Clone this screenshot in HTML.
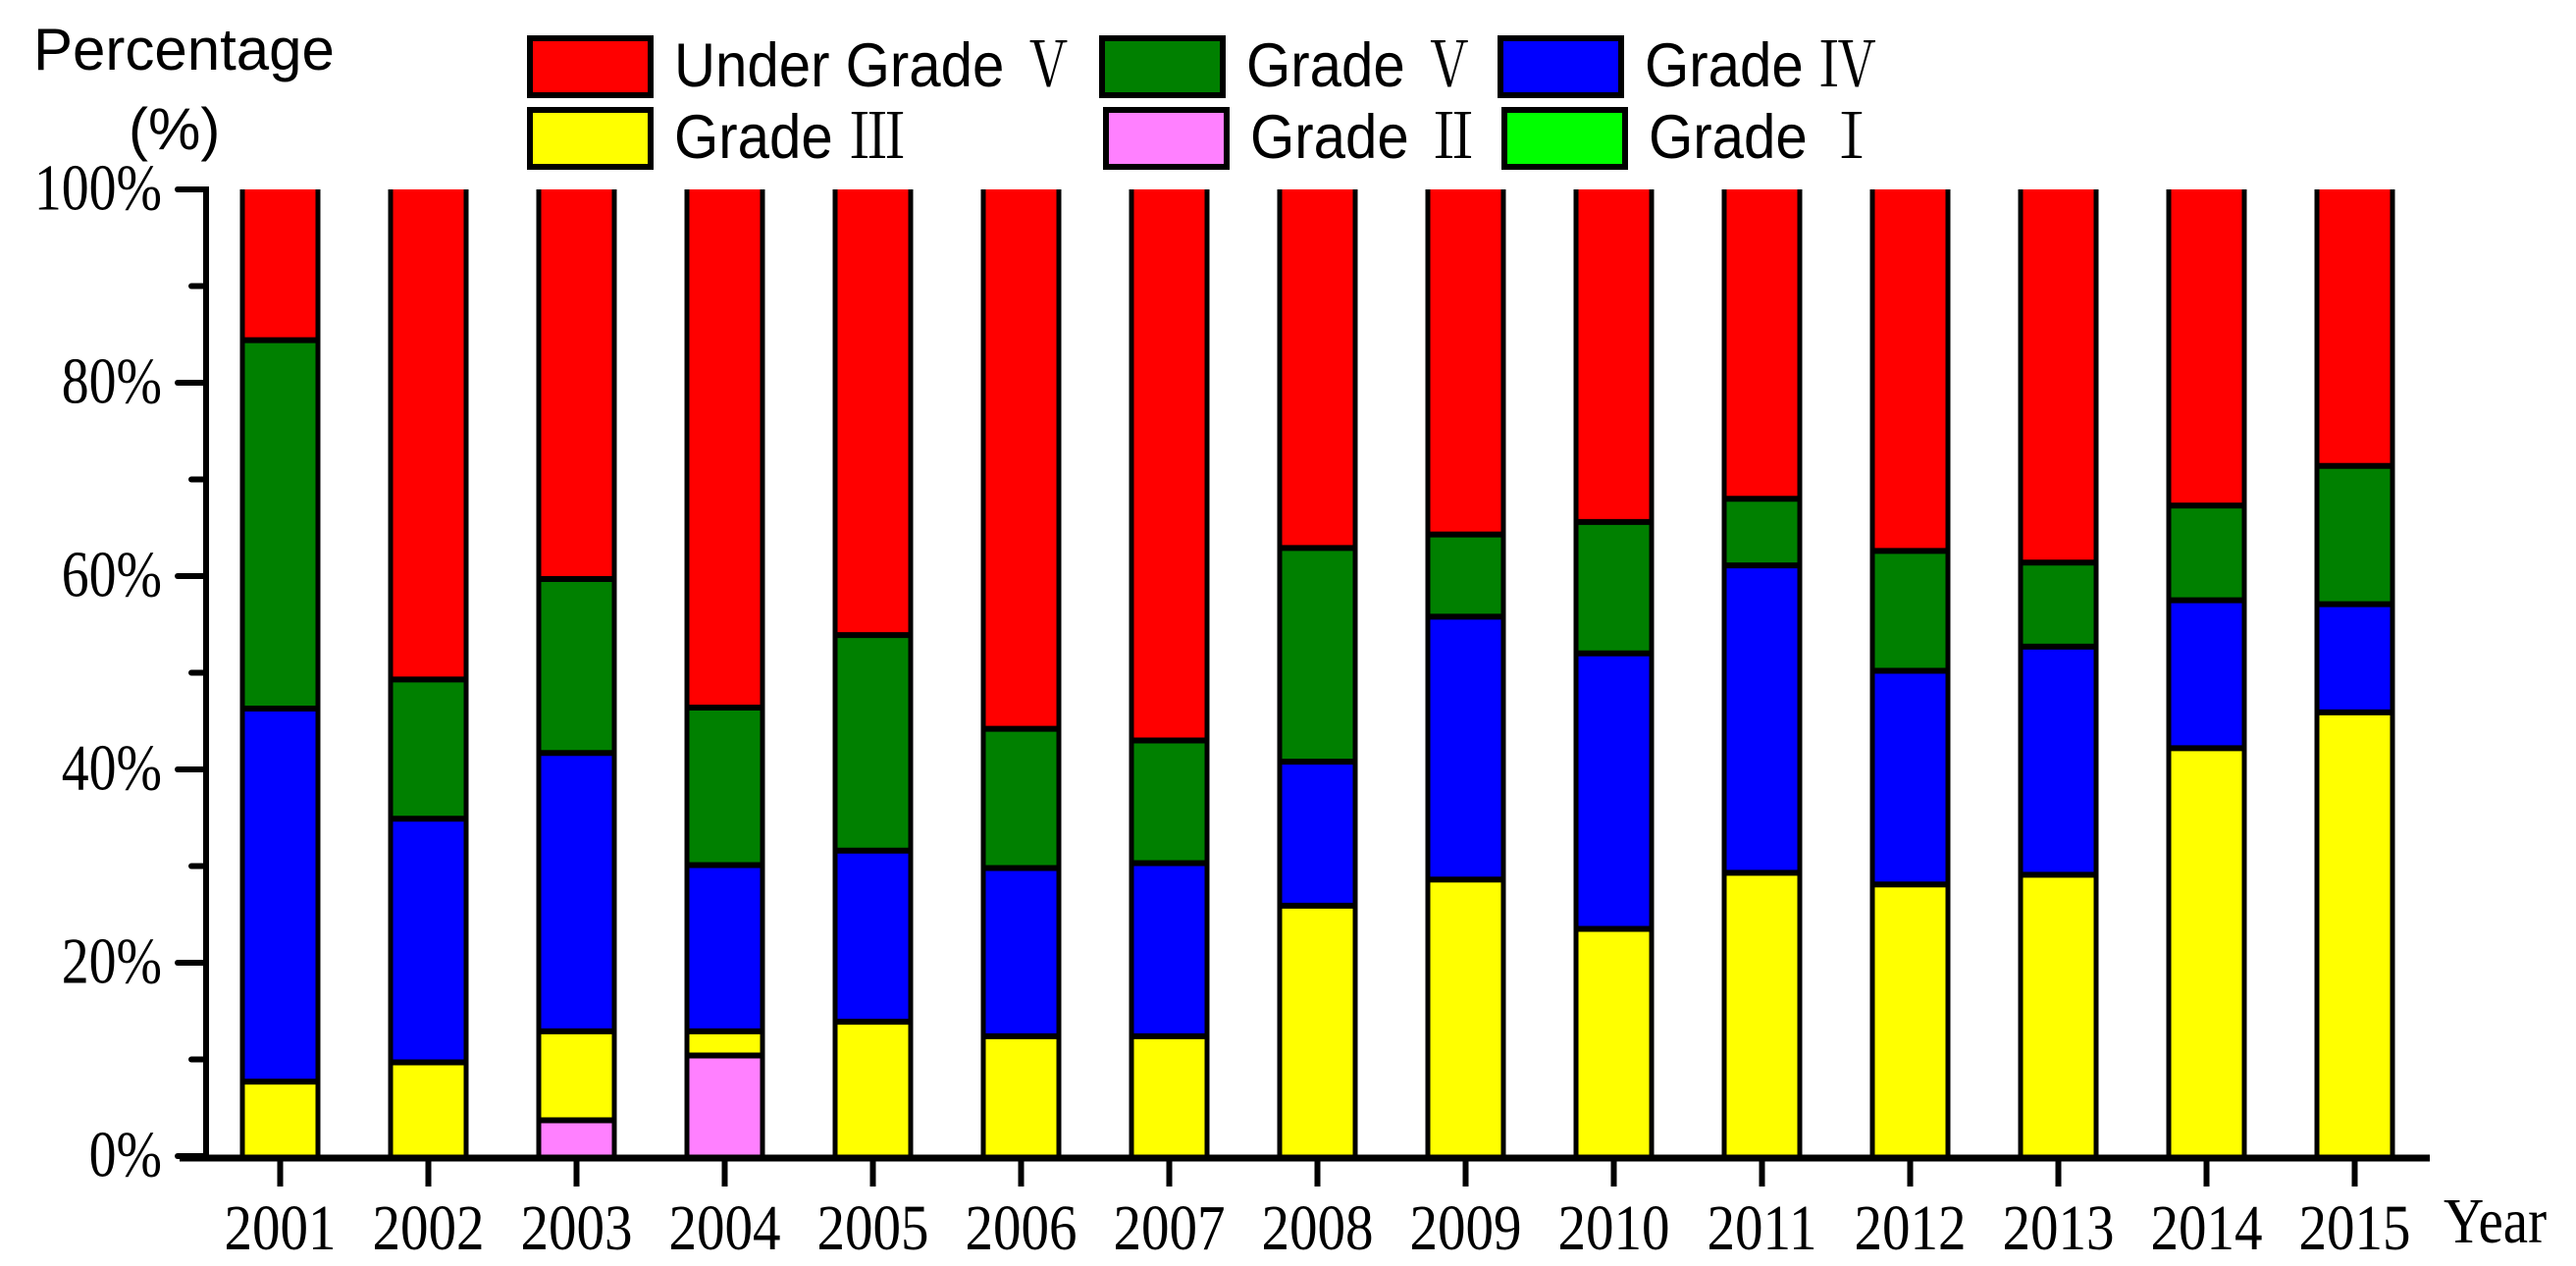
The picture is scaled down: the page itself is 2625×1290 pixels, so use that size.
<!DOCTYPE html>
<html><head><meta charset="utf-8"><style>
html,body{margin:0;padding:0;background:#fff;}
svg{display:block;}
.s{font-family:"Liberation Sans",sans-serif;}
.r{font-family:"Liberation Serif",serif;}
</style></head><body>
<svg id="chart" width="2625" height="1290" viewBox="0 0 2625 1290" xmlns="http://www.w3.org/2000/svg">
<g id="legend"></g>
<text class="s" x="34" y="71" font-size="60">Percentage</text>
<text class="s" x="131" y="152" font-size="60">(%)</text>
<g id="bars"></g>
<g id="axes"></g>
</svg>
<script>
const years = ["2001","2002","2003","2004","2005","2006","2007","2008","2009","2010","2011","2012","2013","2014","2015"];
const gradeI = [0,0,0,0,0,0,0,0,0,0,0,0,0,0,0];
const gradeII = [0,0,3.7,10.4,0,0,0,0,0,0,0,0,0,0,0];
const gradeIII = [7.7,9.7,9.2,2.5,13.9,12.4,12.4,25.9,28.6,23.5,29.3,28.1,29.1,42.2,45.9];
const gradeIV = [38.6,25.2,28.8,17.2,17.7,17.4,17.9,14.9,27.2,28.5,31.8,22.1,23.6,15.3,11.2];
const gradeV = [38.1,14.4,18.0,16.3,22.3,14.4,12.7,22.1,8.5,13.6,6.9,12.4,8.7,9.8,14.3];
const underV = [15.6,50.7,40.3,53.6,46.1,55.8,57.0,37.1,35.7,34.4,32.0,37.4,38.6,32.7,28.6];
const yTicks = [0,20,40,60,80,100];
const yTickLabels = ["0%","20%","40%","60%","80%","100%"];

const NS="http://www.w3.org/2000/svg";
const Y0=1178, YH=985, X0=285.5, DX=151, BW=77;
function yScale(v){return Y0 - v/100*YH;}
function xScale(i){return X0 + i*DX;}
function mk(tag,attrs,parent){const e=document.createElementNS(NS,tag);for(const k in attrs)e.setAttribute(k,attrs[k]);parent.appendChild(e);return e;}

const series=[
 {name:"grade-i",vals:gradeI,color:"#00ff00"},
 {name:"grade-ii",vals:gradeII,color:"#ff80ff"},
 {name:"grade-iii",vals:gradeIII,color:"#ffff00"},
 {name:"grade-iv",vals:gradeIV,color:"#0000ff"},
 {name:"grade-v",vals:gradeV,color:"#008000"},
 {name:"under-grade-v",vals:underV,color:"#ff0000"}];

const bars=document.getElementById('bars');
years.forEach((yr,i)=>{
  const cx=xScale(i), x=cx-BW/2;
  const g=mk('g',{},bars);
  
  
  let cum=0; const bounds=[];
  series.forEach(s=>{
    const v=s.vals[i]; if(v<=0)return;
    const top=Math.min(cum+v,100);
    const r=mk('rect',{x:x,y:yScale(top),width:BW,height:yScale(cum)-yScale(top),fill:s.color},g);
    
    
    cum=top; if(cum<99.9)bounds.push(cum);
  });
  mk('line',{x1:x,x2:x,y1:yScale(100),y2:Y0,stroke:"#000","stroke-width":5},g);
  mk('line',{x1:x+BW,x2:x+BW,y1:yScale(100),y2:Y0,stroke:"#000","stroke-width":5},g);
  bounds.forEach(b=>mk('line',{x1:x,x2:x+BW,y1:yScale(b),y2:yScale(b),stroke:"#000","stroke-width":6},g));
});

const axes=document.getElementById('axes');
const ya=mk('line',{x1:210,x2:210,y1:yScale(100)-3,y2:Y0,stroke:"#000","stroke-width":6},axes);


const xa=mk('line',{x1:183,x2:2476,y1:Y0+2,y2:Y0+2,stroke:"#000","stroke-width":7},axes);


yTicks.forEach((t,k)=>{
  mk('line',{x1:181,x2:210,y1:yScale(t),y2:yScale(t),stroke:"#000","stroke-width":6,"stroke-linecap":"round"},axes);
  if(k<yTicks.length-1){const m=(t+yTicks[k+1])/2;mk('line',{x1:195,x2:210,y1:yScale(m),y2:yScale(m),stroke:"#000","stroke-width":6,"stroke-linecap":"round"},axes);}
  const tx=mk('text',{x:165,y:yScale(t)+19,"font-size":62,"text-anchor":"end",class:"r",transform:`translate(165,${yScale(t)}) scale(0.9,1.08) translate(-165,${-yScale(t)})`},axes);
  tx.textContent=yTickLabels[k];
  
  
});
years.forEach((yr,i)=>{
  const cx=xScale(i);
  mk('line',{x1:cx,x2:cx,y1:Y0,y2:1209,stroke:"#000","stroke-width":6},axes);
  const tx=mk('text',{x:cx,y:1273,"font-size":62,"text-anchor":"middle",class:"r",transform:`translate(${cx},1273) scale(0.92,1.06) translate(${-cx},-1273)`},axes);
  tx.textContent=yr;
  
  
});
const yl=mk('text',{x:2490,y:1266,"font-size":62,class:"r",transform:"translate(2490,1266) scale(0.92,1.06) translate(-2490,-1266)"},axes);
yl.textContent="Year";



const legendItems=[
 {x:537,y:36,color:"#ff0000",t:"Under Grade ",n:"Ⅴ",name:"legend-under-grade-v"},
 {x:1120,y:36,color:"#008000",t:"Grade ",n:"Ⅴ",name:"legend-grade-v"},
 {x:1526,y:36,color:"#0000ff",t:"Grade ",n:"Ⅳ",name:"legend-grade-iv"},
 {x:537,y:109,color:"#ffff00",t:"Grade ",n:"Ⅲ",name:"legend-grade-iii"},
 {x:1124,y:109,color:"#ff80ff",t:"Grade ",n:"Ⅱ",name:"legend-grade-ii"},
 {x:1530,y:109,color:"#00ff00",t:"Grade ",n:"Ⅰ",name:"legend-grade-i"}];
const leg=document.getElementById('legend');
legendItems.forEach(it=>{
  const g=mk('g',{},leg);
  
  
  mk('rect',{x:it.x+3,y:it.y+3,width:123,height:58,fill:it.color,stroke:"#000","stroke-width":6},g);
  const tx=mk('text',{x:it.x+150,y:it.y+52,"font-size":60,class:"s",transform:`translate(${it.x+150},${it.y+52}) scale(0.97,1.05) translate(${-(it.x+150)},${-(it.y+52)})`},g);
  tx.textContent=it.t;
  const sp=mk('tspan',{"font-family":"'Liberation Serif','Noto Serif CJK SC',serif","font-size":60},tx);
  sp.textContent=it.n;
});
</script>
</body></html>
